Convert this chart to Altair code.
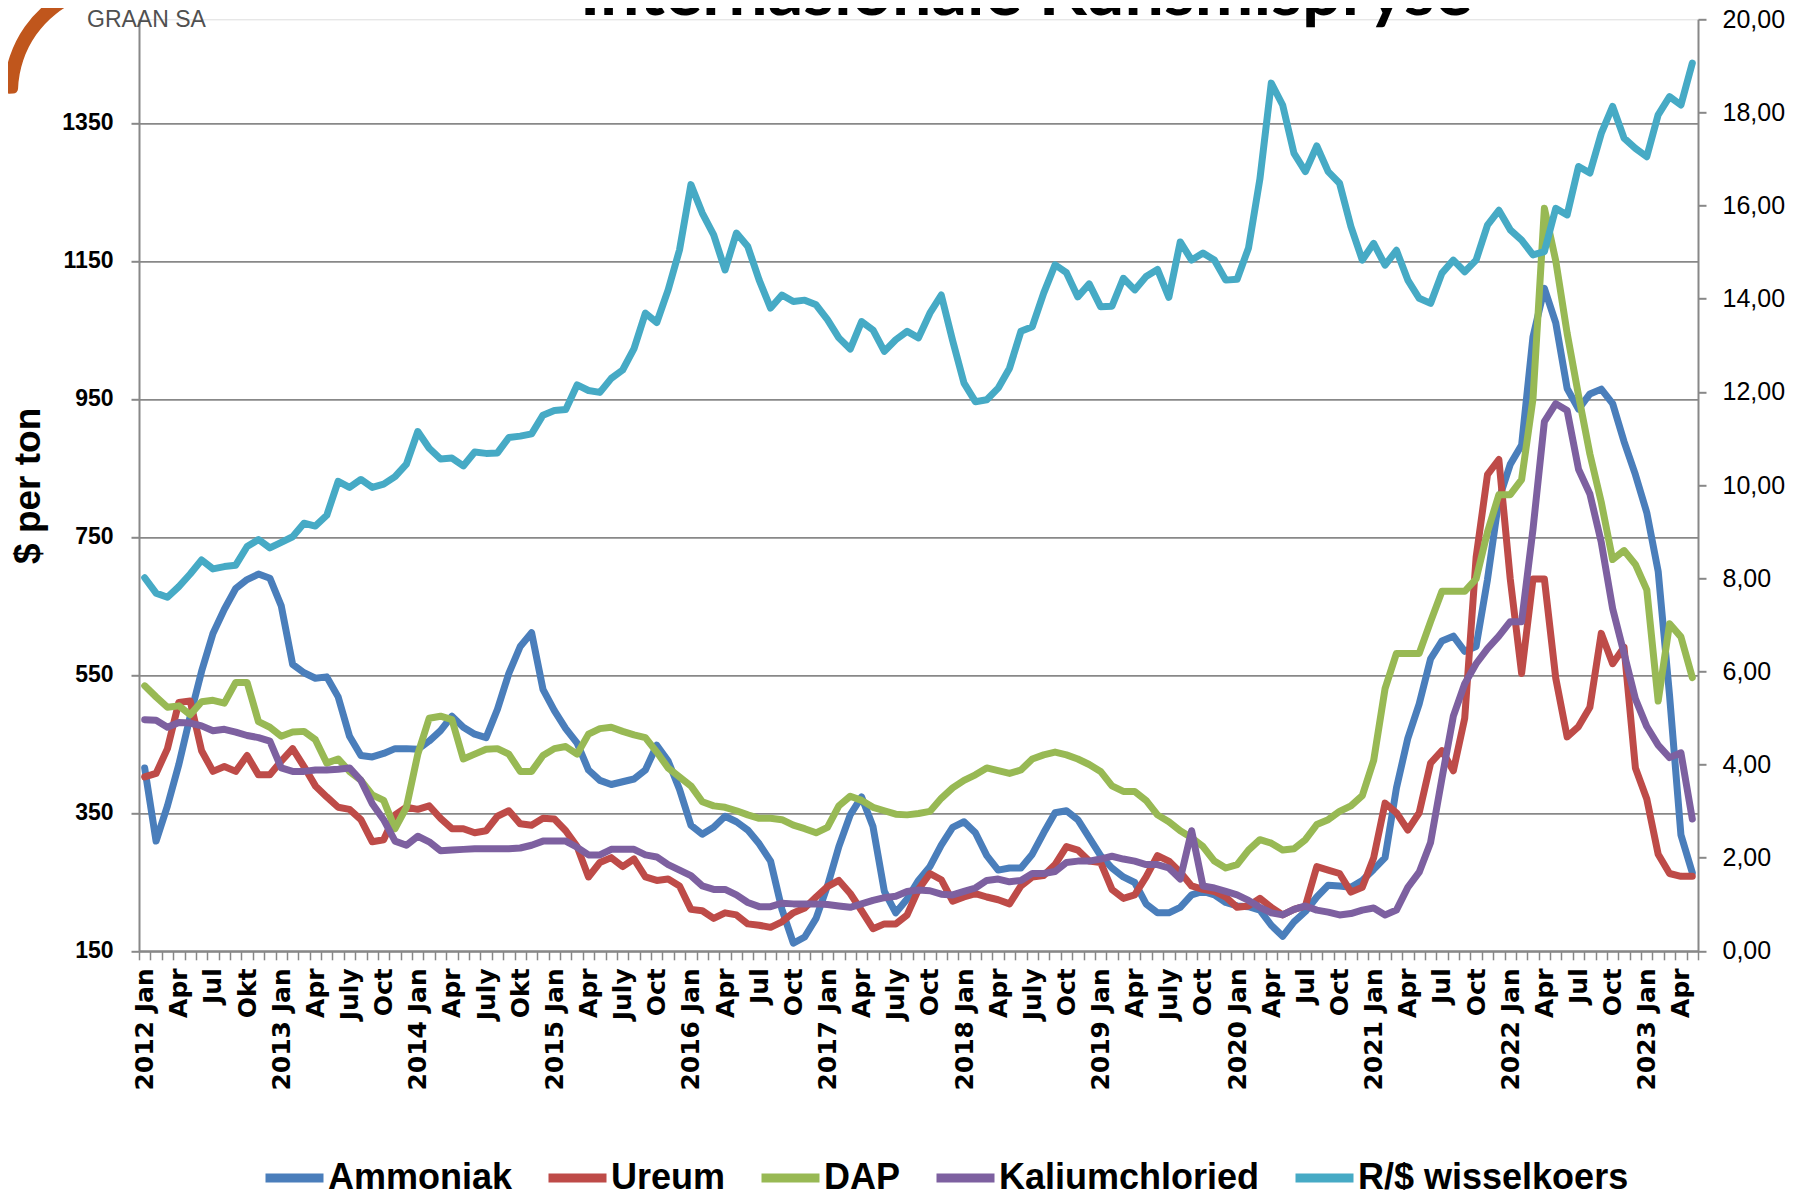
import json
import altair as alt
import pandas as pd

# ---------------- data ----------------
SERIES = ["Ammoniak", "Ureum", "DAP", "Kaliumchloried", "R/$ wisselkoers"]
COLORS = ["#4A7EBB", "#BE4B48", "#98B954", "#7D60A0", "#46AAC5"]
TITLE = "Internasionale Kunsmispryse"

# month index 0 = 2012 Jan ... 136 = 2023 May; labels every third month
TICK_LABELS = ["2012 Jan", "Apr", "Jul", "Okt", "2013 Jan", "Apr", "July", "Oct",
               "2014 Jan", "Apr", "July", "Okt", "2015 Jan", "Apr", "July", "Oct",
               "2016 Jan", "Apr", "Jul", "Oct", "2017 Jan", "Apr", "July", "Oct",
               "2018 Jan", "Apr", "July", "Oct", "2019 Jan", "Apr", "July", "Oct",
               "2020 Jan", "Apr", "Jul", "Oct", "2021 Jan", "Apr", "Jul", "Oct",
               "2022 Jan", "Apr", "Jul", "Oct", "2023 Jan", "Apr"]

ammoniak = [415, 309, 360, 420, 490, 555, 610, 645, 675, 688, 696, 690,
            650, 565, 553, 545, 547, 518, 461, 433, 431, 436, 443, 443,
            442, 454, 469, 490, 474, 464, 459, 500, 552, 591, 611, 529,
            498, 472, 451, 412, 397, 391, 395, 399, 412, 448, 425, 384,
            332, 319, 329, 345, 337, 325, 305, 280, 210, 161, 170, 197,
            244, 301, 347, 373, 330, 236, 205, 225, 252, 272, 303, 329,
            337, 321, 288, 267, 270, 270, 290, 321, 350, 353, 340, 314,
            288, 270, 257, 249, 218, 205, 205, 213, 231, 236, 231, 220,
            215, 214, 209, 187, 171, 192, 207, 228, 245, 244, 242, 252,
            268, 285, 386, 458, 508, 573, 599, 606, 584, 591, 688, 804,
            855, 883, 1040, 1110, 1060, 965, 935, 957, 964, 943, 888, 840,
            785, 700, 520, 318, 263]

ureum = [402, 407, 443, 510, 512, 440, 410, 417, 410, 433, 405, 405,
         425, 443, 417, 389, 373, 358, 355, 340, 308, 311, 347, 358,
         355, 360, 342, 327, 327, 321, 324, 345, 353, 334, 332, 342,
         341, 324, 301, 257, 278, 285, 272, 283, 257, 252, 254, 244,
         210, 208, 197, 205, 202, 189, 187, 184, 192, 205, 212, 228,
         243, 252, 233, 208, 182, 189, 189, 202, 239, 262, 253, 222,
         228, 233, 228, 224, 218, 244, 257, 259, 275, 301, 296, 280,
         278, 239, 226, 231, 257, 288, 280, 264, 244, 239, 236, 228,
         213, 215, 226, 213, 202, 210, 215, 272, 267, 262, 235, 242,
         285, 364, 350, 325, 350, 422, 440, 411, 487, 720, 840, 862,
         689, 552, 689, 689, 545, 460, 475, 503, 610, 566, 590, 415,
         370, 290, 262, 258, 258]

dap = [534, 518, 503, 505, 492, 511, 513, 509, 539, 539, 482, 474,
       461, 467, 468, 456, 422, 428, 410, 397, 376, 368, 327, 358,
       435, 487, 490, 485, 428, 435, 442, 443, 435, 410, 410, 433,
       443, 446, 435, 464, 472, 474, 468, 463, 459, 438, 415, 402,
       389, 366, 360, 358, 353, 347, 342, 342, 340, 332, 327, 321,
       329, 360, 374, 368, 358, 353, 348, 347, 349, 352, 371, 386,
       397, 405, 415, 411, 407, 412, 428, 434, 438, 434, 428, 420,
       410, 389, 381, 381, 368, 347, 337, 324, 314, 301, 280, 270,
       275, 296, 311, 306, 296, 298, 311, 333, 340, 352, 360, 375,
       426, 530, 581, 581, 581, 627, 671, 671, 671, 689, 757, 811,
       811, 833, 950, 1226, 1150, 1045, 955, 870, 800, 717, 730, 710,
       673, 512, 624, 605, 546]

kalium = [485, 484, 474, 481, 480, 476, 469, 471, 467, 462, 459, 454,
          415, 410, 410, 412, 412, 413, 415, 397, 363, 340, 309, 303,
          316, 308, 295, 296, 297, 298, 298, 298, 298, 299, 303, 309,
          309, 309, 300, 289, 289, 297, 297, 297, 289, 286, 275, 267,
          259, 244, 239, 239, 231, 220, 214, 214, 219, 218, 218, 218,
          217, 215, 213, 218, 223, 227, 229, 236, 238, 237, 232, 231,
          236, 241, 252, 254, 250, 252, 262, 262, 265, 278, 280, 280,
          283, 287, 283, 280, 275, 275, 270, 254, 324, 244, 241, 236,
          231, 223, 213, 205, 202, 210, 215, 209, 206, 202, 204, 209,
          212, 202, 209, 242, 264, 307, 400, 490, 537, 566, 588, 606,
          627, 627, 761, 917, 943, 933, 848, 812, 742, 646, 581, 515,
          475, 448, 430, 437, 341]

wisselkoers = [8.01, 7.68, 7.59, 7.82, 8.09, 8.39, 8.20, 8.25, 8.28, 8.68, 8.83, 8.65,
               8.77, 8.89, 9.18, 9.12, 9.35, 10.08, 9.95, 10.12, 9.95, 10.02, 10.18, 10.45,
               11.15, 10.79, 10.56, 10.58, 10.41, 10.71, 10.68, 10.69, 11.02, 11.05, 11.10, 11.50,
               11.60, 11.62, 12.15, 12.03, 11.99, 12.29, 12.47, 12.93, 13.69, 13.49, 14.19, 15.05,
               16.45, 15.84, 15.37, 14.62, 15.41, 15.12, 14.40, 13.80, 14.08, 13.94, 13.97, 13.87,
               13.55, 13.16, 12.92, 13.51, 13.33, 12.87, 13.12, 13.30, 13.16, 13.69, 14.08, 13.10,
               12.19, 11.79, 11.83, 12.08, 12.51, 13.30, 13.40, 14.12, 14.73, 14.56, 14.04, 14.32,
               13.83, 13.84, 14.44, 14.19, 14.48, 14.63, 14.03, 15.22, 14.83, 14.98, 14.83, 14.40,
               14.42, 15.09, 16.57, 18.63, 18.16, 17.12, 16.73, 17.28, 16.73, 16.48, 15.55, 14.83,
               15.19, 14.72, 15.04, 14.40, 14.01, 13.90, 14.55, 14.83, 14.58, 14.83, 15.58, 15.90,
               15.48, 15.26, 14.94, 15.01, 15.94, 15.80, 16.84, 16.70, 17.55, 18.13, 17.45, 17.23,
               17.05, 17.95, 18.34, 18.16, 19.06]

LEFT_TICKS = [150, 350, 550, 750, 950, 1150, 1350]
RIGHT_TICKS = [0, 2, 4, 6, 8, 10, 12, 14, 16, 18, 20]

# ---------------- tables ----------------
rows = []
for name, vals in zip(SERIES[:4], [ammoniak, ureum, dap, kalium]):
    for m, v in enumerate(vals):
        rows.append({"m": m, "series": name, "price": v})
fert = pd.DataFrame(rows)
fx = pd.DataFrame({"m": list(range(len(wisselkoers))),
                   "series": SERIES[4], "rate": wisselkoers})

GRAY = "#888888"
label_expr = ("datum.value % 3 == 0 ? " + json.dumps(TICK_LABELS) +
              "[datum.value / 3] : ''")

X = alt.X("m:O",
          scale=alt.Scale(type="band", paddingInner=0, paddingOuter=0),
          axis=alt.Axis(title=None, labelExpr=label_expr, labelAngle=270,
                        labelOverlap=False, labelFont="DejaVu Sans",
                        labelFontWeight="bold", labelFontSize=25,
                        labelColor="black", labelPadding=8,
                        tickBand="extent", ticks=True, tickSize=9,
                        tickColor=GRAY, tickWidth=1.5,
                        domainColor=GRAY, domainWidth=2, grid=False))

COLOR = alt.Color("series:N",
                  scale=alt.Scale(domain=SERIES, range=COLORS),
                  legend=alt.Legend(title=None, orient="none", direction="horizontal",
                                    legendX=122, legendY=1125,
                                    symbolType="stroke", symbolSize=3364,
                                    symbolStrokeWidth=9, labelFont="Liberation Sans",
                                    labelFontWeight="bold", labelFontSize=36,
                                    labelColor="black", labelOffset=0,
                                    columnPadding=17, labelLimit=0, padding=0))

LEFT_AXIS = alt.Axis(orient="left", values=LEFT_TICKS, format="d", grid=True,
                     gridColor=GRAY, gridWidth=1.7,
                     domainColor=GRAY, domainWidth=2,
                     tickColor=GRAY, tickWidth=2, tickSize=8,
                     labelFont="Liberation Sans", labelFontWeight="bold",
                     labelFontSize=23, labelColor="black", labelPadding=18,
                     title="$ per ton", titleFont="Liberation Sans",
                     titleFontWeight="bold", titleFontSize=37, titleColor="black",
                     titleAngle=270, titleX=-100, titleY=466,
                     titleAlign="center", titleBaseline="alphabetic")

Y_LEFT = alt.Y("price:Q", scale=alt.Scale(domain=[150, 1500], nice=False, zero=False),
               axis=LEFT_AXIS)

LINE = dict(strokeWidth=7, strokeCap="round", strokeJoin="round")

layers = []
for name in SERIES[:4]:
    layers.append(alt.Chart(fert).transform_filter(alt.datum.series == name)
                  .mark_line(**LINE).encode(x=X, y=Y_LEFT, color=COLOR))

# logo of the source (decoration, top-left corner) and the chart title,
# which sits partly above the top edge of the picture
logo_arc = alt.Chart(pd.DataFrame({"t": ["logo"]})).mark_arc(
    color="#C0561C", cornerRadius=5).encode(
    x=alt.value(-21), y=alt.value(73),
    theta=alt.value(4.70), theta2=alt.value(5.95),
    radius=alt.value(114), radius2=alt.value(100))
logo = alt.Chart(pd.DataFrame({"t": ["GRAAN SA"]})).mark_text(
    align="left", baseline="alphabetic", font="Liberation Sans",
    fontSize=23, color="#505050").encode(text="t:N", x=alt.value(-52), y=alt.value(8))
title = alt.Chart(pd.DataFrame({"t": [TITLE]})).mark_text(
    align="center", baseline="alphabetic", font="Lato", fontWeight="bold",
    fontSize=70, color="black").encode(text="t:N", x=alt.value(887), y=alt.value(-4))
layers += [logo_arc, logo, title]

left = alt.layer(*layers)

right = alt.Chart(fx).mark_line(**LINE).encode(
    x=X,
    y=alt.Y("rate:Q", scale=alt.Scale(domain=[0, 20], nice=False, zero=True),
            axis=alt.Axis(orient="right", values=RIGHT_TICKS, grid=False,
                          labelExpr="replace(format(datum.value, '.2f'), '.', ',')",
                          domainColor=GRAY, domainWidth=2,
                          tickColor=GRAY, tickWidth=2, tickSize=8,
                          labelFont="Liberation Sans", labelFontSize=25,
                          labelColor="black", labelPadding=16, title=None)),
    color=COLOR)

chart = alt.layer(left, right).resolve_scale(y="independent").properties(
    width=1559, height=931.5,
    padding={"left": 131, "top": 11.3, "right": 96, "bottom": 239.2},
    autosize=alt.AutoSizeParams(type="none"),
).configure_view(stroke=None).configure(background="white")

chart.save("out.html", embed_options={"renderer": "svg", "actions": False})
